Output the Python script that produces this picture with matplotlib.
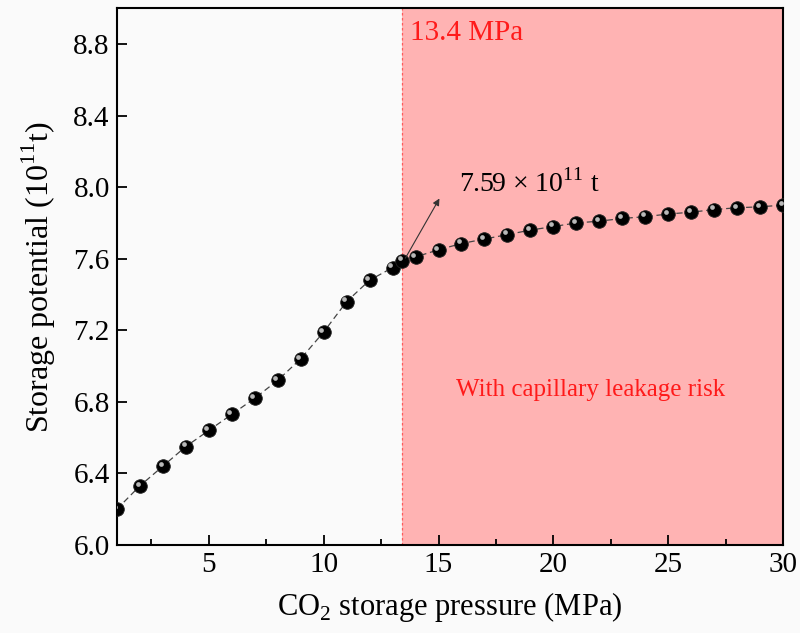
import matplotlib.pyplot as plt
import matplotlib.transforms as mtransforms
from matplotlib.ticker import MultipleLocator

plt.rcParams['font.family'] = ['Liberation Serif', 'DejaVu Serif']
plt.rcParams['mathtext.fontset'] = 'custom'
plt.rcParams['mathtext.rm'] = 'Liberation Serif'

# storage pressure (MPa) and storage potential (1e11 t)
pressure = [1, 2, 3, 4, 5, 6, 7, 8, 9, 10, 11, 12, 13, 13.4, 14, 15, 16, 17,
            18, 19, 20, 21, 22, 23, 24, 25, 26, 27, 28, 29, 30]
potential = [6.20, 6.33, 6.44, 6.55, 6.64, 6.73, 6.82, 6.92, 7.04, 7.19, 7.36,
             7.48, 7.55, 7.59, 7.61, 7.65, 7.685, 7.71, 7.735, 7.76, 7.78,
             7.80, 7.81, 7.825, 7.835, 7.85, 7.86, 7.875, 7.885, 7.89, 7.90]

critical_p = 13.4
critical_v = 7.59

fig = plt.figure(figsize=(8, 6.33), dpi=100, facecolor='#fafafa')
ax = fig.add_axes([0.146, 0.139, 0.833, 0.848])
ax.set_facecolor('#fafafa')

ax.axvspan(critical_p, 30, color='#ffb3b3', zorder=0, lw=0)
ax.axvline(critical_p, color='#ff5a5a', ls=(0, (2, 2)), lw=0.9, zorder=1)

ax.plot(pressure, potential, color='#444444', ls=(0, (5, 3)), lw=0.9, zorder=2)
ax.plot(pressure, potential, ls='none', marker='o', ms=9.8,
        mfc='black', mec='#222222', mew=0.6, zorder=3)
# small glint on each ball
glint = mtransforms.offset_copy(ax.transData, fig=fig, x=-1.6, y=1.6, units='points')
ax.plot(pressure, potential, ls='none', marker='o', ms=3.4,
        mfc='#b8b8b8', mec='none', transform=glint, zorder=4)

ax.annotate('', xy=(15.1, 7.95), xytext=(critical_p + 0.1, critical_v),
            arrowprops=dict(arrowstyle='-|>', color='#333333', lw=0.8,
                            mutation_scale=10))
ax.text(15.9, 8.02, '7.59 \u00d7 10$^{11}$ t', fontsize=20, va='center')
ax.text(13.75, 8.86, '13.4 MPa', color='#ff1a1a', fontsize=21, va='center')
ax.text(21.6, 6.865, 'With capillary leakage risk', color='#ff1a1a',
        fontsize=18, ha='center', va='center')

ax.set_xlim(1, 30)
ax.set_ylim(6.0, 9.0)
ax.xaxis.set_major_locator(MultipleLocator(5))
ax.xaxis.set_minor_locator(MultipleLocator(2.5))
ax.yaxis.set_major_locator(MultipleLocator(0.4))
ax.yaxis.set_major_formatter(plt.FuncFormatter(lambda v, p: f'{v:.1f}' if v < 8.9 else ''))
ax.tick_params(which='both', direction='in', top=False, right=False,
               labelsize=21, width=1.3)
ax.tick_params(which='major', length=7, pad=5)
ax.tick_params(which='minor', length=4)
for s in ax.spines.values():
    s.set_linewidth(1.5)

ax.set_xlabel(r'CO$_2$ storage pressure (MPa)', fontsize=22, labelpad=9)
ax.set_ylabel(r'Storage potential (10$^{11}$t)', fontsize=23, labelpad=11)

fig.savefig('out.png', dpi=100, facecolor=fig.get_facecolor())
